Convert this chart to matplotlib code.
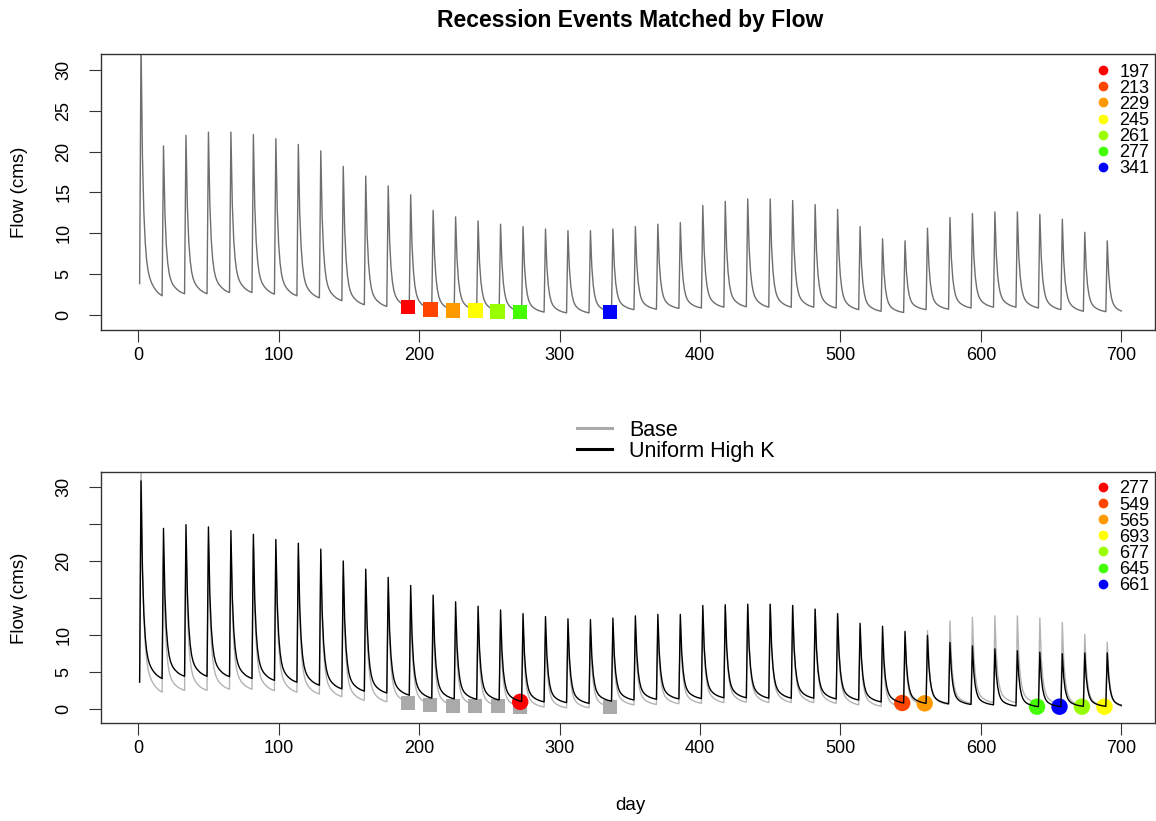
import matplotlib
matplotlib.use('Agg')
import matplotlib.pyplot as plt
from matplotlib.lines import Line2D
import numpy as np

plt.rcParams['font.family'] = ['Liberation Sans', 'DejaVu Sans']

# events: one storm every 16 days, peak on day 2 + 16k
n_days = 700
first_peak_day = 2
event_spacing = 16

# flow on day 1 (before the first peak)
base_start = 3.8
highk_start = 3.65

# peak flow of each event (cms)
base_peaks = [33.5, 20.7, 22.0, 22.4, 22.4, 22.1, 21.6, 20.9, 20.1, 18.2, 17.0,
              15.8, 14.7, 12.8, 12.0, 11.5, 11.1, 10.8, 10.5, 10.3, 10.3, 10.5,
              10.8, 11.1, 11.3, 13.4, 13.9, 14.2, 14.2, 14.0, 13.5, 12.9, 10.8,
              9.3, 9.05, 10.6, 11.9, 12.4, 12.6, 12.6, 12.3, 11.7, 10.1, 9.05]
highk_peaks = [30.8, 24.4, 24.9, 24.6, 24.1, 23.6, 22.9, 22.4, 21.6, 20.0, 18.9,
               17.8, 16.7, 15.4, 14.5, 13.9, 13.4, 12.9, 12.5, 12.2, 12.1, 12.3,
               12.6, 12.8, 12.8, 14.0, 14.1, 14.15, 14.15, 14.0, 13.5, 12.9, 11.6,
               11.2, 10.5, 9.95, 9.0, 8.55, 8.15, 7.9, 7.7, 7.5, 7.6, 7.6]

# low flow reached at the end of each event's recession (cms)
base_troughs = [2.3, 2.55, 2.55, 2.7, 2.7, 2.5, 2.3, 2.05, 1.7, 1.2, 1.0, 0.9,
                0.6, 0.5, 0.5, 0.4, 0.3, 0.3, 0.2, 0.2, 0.3, 0.6, 0.65, 0.75,
                0.8, 0.9, 0.95, 0.9, 0.9, 0.9, 0.8, 0.6, 0.4, 0.25, 0.6, 0.65,
                0.8, 0.9, 0.9, 0.8, 0.6, 0.4, 0.35, 0.2]
highk_troughs = [4.15, 4.45, 4.45, 4.4, 4.15, 3.9, 3.65, 3.25, 2.75, 2.45, 2.2,
                 1.9, 1.5, 1.4, 1.35, 1.25, 1.05, 1.0, 0.9, 0.8, 1.1, 1.25, 1.35,
                 1.4, 1.45, 1.55, 1.55, 1.5, 1.5, 1.5, 1.4, 1.25, 1.0, 0.85, 0.8,
                 0.75, 0.65, 0.6, 0.45, 0.35, 0.35, 0.4, 0.4, 0.35]

recession_shape = [1.0, 0.55, 0.33, 0.21, 0.14, 0.10, 0.075, 0.058, 0.045, 0.035,
                   0.026, 0.019, 0.013, 0.008, 0.004, 0.0]

# matched recession events
top_labels = ['197', '213', '229', '245', '261', '277', '341']
top_days = [192, 208, 224, 240, 256, 272, 336]
top_flow = [0.9, 0.6, 0.5, 0.5, 0.4, 0.3, 0.3]

bottom_labels = ['277', '549', '565', '693', '677', '645', '661']
bottom_days = [272, 544, 560, 688, 672, 640, 656]
bottom_flow = [1.0, 0.85, 0.8, 0.35, 0.35, 0.35, 0.35]

event_colors = ['#FF0000', '#FF4500', '#FF9900', '#FFFF00', '#99FF00', '#44FF00', '#0000FF']


def build_series(start, peaks, troughs):
    flow = np.full(n_days, np.nan)
    flow[0] = start
    for k, (pk, tr) in enumerate(zip(peaks, troughs)):
        p = first_peak_day + event_spacing * k
        for j, f in enumerate(recession_shape):
            d = p + j
            if d <= n_days:
                flow[d - 1] = tr + f * (pk - tr)
    return flow


days = np.arange(1, n_days + 1)
base = build_series(base_start, base_peaks, base_troughs)
highk = build_series(highk_start, highk_peaks, highk_troughs)

W, H = 1156, 821
fig = plt.figure(figsize=(W / 100, H / 100), dpi=100)
ax1 = fig.add_axes([101 / W, 1 - 330 / H, 1054 / W, 276 / H])
ax2 = fig.add_axes([101 / W, 1 - 723 / H, 1054 / W, 251 / H])

# top panel
ax1.plot(days, base, color='#6E6E6E', lw=1.0, zorder=2)
ax1.scatter(top_days, top_flow, marker='s', s=110, c=event_colors, zorder=3, linewidths=0)
ax1.set_ylim(-1.9, 32.0)
ax1.set_yticks([0, 5, 10, 15, 20, 25, 30])
ax1.set_yticklabels(['0', '5', '10', '15', '20', '25', '30'])

# bottom panel
ax2.plot(days, base, color='#B3B3B3', lw=1.0, zorder=2)
ax2.scatter(top_days, top_flow, marker='s', s=110, c='#AAAAAA', zorder=3, linewidths=0)
ax2.scatter(bottom_days, bottom_flow, marker='o', s=140, c=event_colors, zorder=4, linewidths=0)
ax2.plot(days, highk, color='black', lw=1.0, zorder=5)
ax2.set_ylim(-1.85, 32.0)
ax2.set_yticks([0, 5, 10, 15, 20, 25, 30])
ax2.set_yticklabels(['0', '5', '10', '', '20', '', '30'])

for ax, labels, top in [(ax1, top_labels, 0.985), (ax2, bottom_labels, 0.988)]:
    ax.set_xlim(-26.5, 724)
    ax.set_xticks([0, 100, 200, 300, 400, 500, 600, 700])
    ax.tick_params(axis='both', direction='out', length=8.5, width=0.8,
                   labelsize=13, color='#333333')
    ax.tick_params(axis='x', pad=4)
    ax.tick_params(axis='y', pad=12)
    for lab in ax.get_yticklabels():
        lab.set_rotation(90)
        lab.set_va('center')
    for sp in ax.spines.values():
        sp.set_linewidth(1.0)
        sp.set_color('#333333')
    handles = [Line2D([], [], marker='o', ls='none', color=c, markersize=6)
               for c in event_colors]
    ax.legend(handles, labels, loc='upper right', bbox_to_anchor=(1.0, top),
              frameon=False, fontsize=13, handlelength=0.6, handletextpad=0.6,
              labelspacing=-0.05, borderaxespad=0.1, borderpad=0.2)

# line legend between the panels
line_handles = [Line2D([], [], color='#AAAAAA', lw=2.2),
                Line2D([], [], color='black', lw=2.2)]
fig.legend(line_handles, ['Base', 'Uniform High K'], loc='center',
           bbox_to_anchor=(676 / W, 1 - 441 / H), frameon=False, fontsize=15.5,
           handlelength=1.6, handletextpad=0.8, labelspacing=0.0)

fig.text(630 / W, 1 - 20 / H, 'Recession Events Matched by Flow',
         ha='center', va='center', fontsize=16.5, fontweight='bold')
fig.text(20 / W, 1 - 192 / H, 'Flow (cms)', rotation=90, ha='center', va='center', fontsize=13.5)
fig.text(20 / W, 1 - 598 / H, 'Flow (cms)', rotation=90, ha='center', va='center', fontsize=13.5)
fig.text(630 / W, 1 - 805 / H, 'day', ha='center', va='center', fontsize=13.5)

fig.savefig('out.png', dpi=100)
plt.close(fig)
